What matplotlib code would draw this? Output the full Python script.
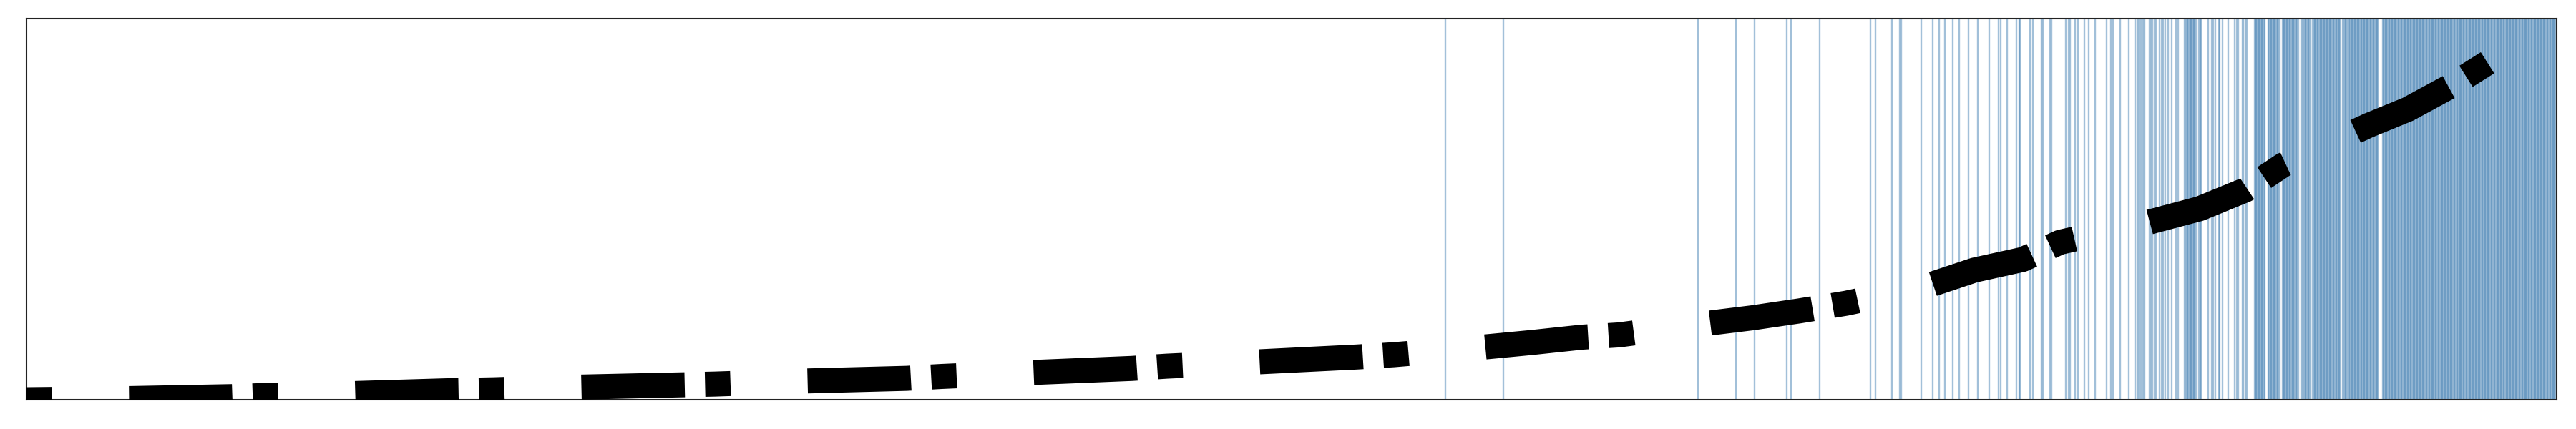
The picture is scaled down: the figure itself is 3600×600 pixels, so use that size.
import matplotlib
matplotlib.use("Agg")
import matplotlib.pyplot as plt

# ---- data ----
# black curve: position (index units) and value
curve_x = [0, 112, 220, 256, 350, 460, 502, 594, 704, 740, 836, 946, 984, 1078,
           1188, 1226, 1322, 1430, 1470, 1562, 1618, 1672, 1712, 1806, 1856,
           1906, 1956, 2040, 2094, 2146, 2186, 2282, 2336, 2386, 2426, 2518,
           2560, 2606, 2678, 2706]
curve_y = [0.0, 0.3, 0.8, 1.1, 1.6, 2.4, 2.6, 3.3, 3.9, 4.1, 4.9, 5.6, 6.1, 7.1,
           8.2, 8.8, 9.9, 11.2, 11.8, 13.7, 15.0, 16.4, 17.0, 20.0, 21.5, 23.3,
           25.3, 29.6, 34.0, 36.8, 41.3, 46.6, 50.1, 55.1, 61.6, 72.0, 76.2,
           82.3, 93.4, 100.0]

# positions of isolated vertical markers (index units)
marker_x = [1525, 1588, 1797, 1838, 1858, 1892, 1897, 1928, 1982, 1988,
            2005, 2014, 2015, 2037, 2049, 2056, 2062, 2071, 2078, 2088, 2098,
            2110, 2120, 2122, 2129, 2139, 2142, 2143, 2154, 2157, 2166, 2168,
            2175, 2177, 2192, 2195, 2197, 2202, 2205, 2212, 2217, 2224, 2236,
            2241, 2243, 2251, 2260, 2267, 2269, 2271, 2273, 2275, 2277, 2282,
            2284, 2285, 2288, 2289, 2293, 2295, 2297, 2299, 2302, 2306, 2311,
            2313, 2335, 2337, 2338, 2345, 2349, 2351, 2353, 2357, 2358, 2361,
            2367, 2374, 2376, 2378, 2382, 2383, 2385, 2387, 2445]
# runs where every index is marked (start, end inclusive)
marker_runs = [(2320, 2332), (2395, 2406), (2410, 2422), (2425, 2442),
               (2447, 2455), (2458, 2487), (2490, 2495), (2497, 2528),
               (2533, 2719)]

x_min, x_max = 0, 2720
y_min, y_max = 0, 100

all_markers = list(marker_x)
for a, b in marker_runs:
    all_markers.extend(range(a, b + 1))

fig = plt.figure(figsize=(36, 6), dpi=100)
ax = fig.add_axes([37 / 3600, 41 / 600, (3573 - 37) / 3600, (574 - 41) / 600])

for xv in all_markers:
    ax.axvline(xv, color="steelblue", alpha=0.5, lw=1.7, zorder=1)

lw_pt = 25.2
ax.plot(curve_x, curve_y, color="black", lw=lw_pt,
        linestyle=(0, (1.016, 3.08, 4.125, 0.813)), solid_capstyle="butt",
        dash_capstyle="butt", zorder=3)

ax.set_xlim(x_min, x_max)
ax.set_ylim(y_min, y_max)
ax.set_xticks([])
ax.set_yticks([])
for sp in ax.spines.values():
    sp.set_linewidth(1.5)
    sp.set_color("#222222")

fig.savefig("out.png", dpi=100)
